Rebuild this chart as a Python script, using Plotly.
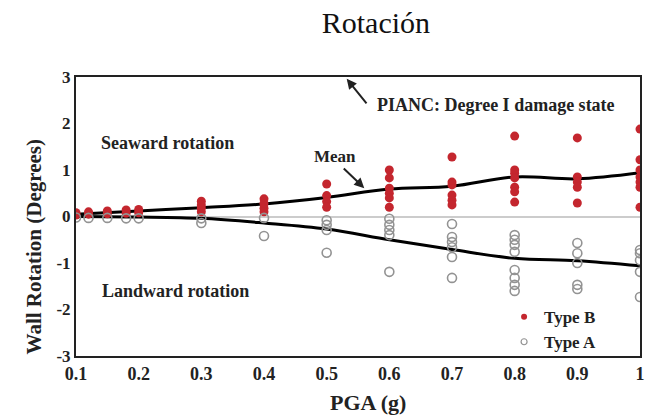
import plotly.graph_objects as go

# Type B (seaward, red filled)
typeB_x = [0.1, 0.1, 0.12, 0.12, 0.15, 0.15, 0.18, 0.18, 0.2, 0.2,
           0.3, 0.3, 0.3, 0.3,
           0.4, 0.4, 0.4, 0.4,
           0.5, 0.5, 0.5, 0.5,
           0.6, 0.6, 0.6, 0.6, 0.6, 0.6,
           0.7, 0.7, 0.7, 0.7, 0.7, 0.7,
           0.8, 0.8, 0.8, 0.8, 0.8, 0.8, 0.8,
           0.9, 0.9, 0.9, 0.9, 0.9,
           1.0, 1.0, 1.0, 1.0, 1.0, 1.0, 1.0]
typeB_y = [0.03, 0.08, 0.05, 0.1, 0.06, 0.12, 0.07, 0.14, 0.08, 0.15,
           0.33, 0.25, 0.18, 0.1,
           0.38, 0.28, 0.18, 0.1,
           0.7, 0.45, 0.32, 0.2,
           1.0, 0.83, 0.61, 0.5, 0.4, 0.2,
           1.28, 0.74, 0.68, 0.46, 0.35, 0.25,
           1.73, 1.0, 0.93, 0.83, 0.63, 0.53, 0.31,
           1.69, 0.85, 0.74, 0.63, 0.29,
           1.88, 1.22, 1.0, 0.85, 0.74, 0.63, 0.2]

# Type A (landward, grey open)
typeA_x = [0.1, 0.12, 0.15, 0.18, 0.2,
           0.3, 0.3,
           0.4, 0.4,
           0.5, 0.5, 0.5, 0.5,
           0.6, 0.6, 0.6, 0.6, 0.6,
           0.7, 0.7, 0.7, 0.7, 0.7, 0.7,
           0.8, 0.8, 0.8, 0.8, 0.8, 0.8, 0.8, 0.8,
           0.9, 0.9, 0.9, 0.9, 0.9,
           1.0, 1.0, 1.0, 1.0, 1.0]
typeA_y = [-0.02, -0.03, -0.03, -0.04, -0.04,
           -0.04, -0.14,
           -0.03, -0.42,
           -0.08, -0.18, -0.29, -0.78,
           -0.05, -0.18, -0.29, -0.4, -1.19,
           -0.16, -0.44, -0.55, -0.66, -0.87, -1.32,
           -0.4, -0.5, -0.61, -0.76, -1.15, -1.32, -1.47, -1.6,
           -0.57, -0.79, -1.0, -1.47, -1.56,
           -0.72, -0.79, -0.94, -1.19, -1.73]

# Mean curves
pga = [0.1, 0.2, 0.3, 0.4, 0.5, 0.6, 0.7, 0.8, 0.9, 1.0]
mean_B = [0.05, 0.12, 0.19, 0.27, 0.41, 0.59, 0.65, 0.85, 0.81, 0.94]
mean_A = [0.0, -0.01, -0.04, -0.14, -0.27, -0.5, -0.71, -0.9, -0.95, -1.06]

x_ticks = [0.1, 0.2, 0.3, 0.4, 0.5, 0.6, 0.7, 0.8, 0.9, 1.0]
x_tick_labels = ["0.1", "0.2", "0.3", "0.4", "0.5", "0.6", "0.7", "0.8", "0.9", "1"]
y_ticks = [-3, -2, -1, 0, 1, 2, 3]
y_tick_labels = ["-3", "-2", "-1", "0", "1", "2", "3"]

FONT = "Liberation Serif"
RED = "#c4262e"
GREY = "#939393"
INK = "#222222"

fig = go.Figure()
fig.add_trace(go.Scatter(x=pga, y=mean_B, mode="lines", line=dict(color="black", width=3, shape="spline"),
                         showlegend=False, hoverinfo="skip"))
fig.add_trace(go.Scatter(x=pga, y=mean_A, mode="lines", line=dict(color="black", width=3, shape="spline"),
                         showlegend=False, hoverinfo="skip"))
fig.add_trace(go.Scatter(x=typeB_x, y=typeB_y, mode="markers", name="Type B", showlegend=False,
                         marker=dict(color=RED, size=9, line=dict(width=0))))
fig.add_trace(go.Scatter(x=typeA_x, y=typeA_y, mode="markers", name="Type A", showlegend=False,
                         marker=dict(color="rgba(255,255,255,0)", size=9, symbol="circle",
                                     line=dict(color=GREY, width=1.6))))
# legend entries (small symbols as in the original)
fig.add_trace(go.Scatter(x=[None], y=[None], mode="markers", name="Type B",
                         marker=dict(color=RED, size=6, line=dict(width=0))))
fig.add_trace(go.Scatter(x=[None], y=[None], mode="markers", name="Type A",
                         marker=dict(color="rgba(255,255,255,0)", size=6, symbol="circle",
                                     line=dict(color=GREY, width=1.2))))

bold = dict(family=FONT, size=18, color=INK, weight="bold")

fig.update_layout(
    width=656, height=416,
    margin=dict(l=76, r=11, t=77, b=60),
    plot_bgcolor="white", paper_bgcolor="white",
    title=dict(text="Rotación", x=0.573, xanchor="center", y=0.947, yanchor="middle",
               font=dict(family=FONT, size=30, color="#111")),
    xaxis=dict(range=[0.1, 1.0], tickvals=x_ticks, ticktext=x_tick_labels,
               showgrid=False, zeroline=False, showline=True, linecolor=INK, linewidth=2,
               mirror=True, ticks="", tickfont=dict(family=FONT, size=18, color=INK, weight="bold")),
    yaxis=dict(range=[-3, 3], tickvals=y_ticks, ticktext=y_tick_labels,
               showgrid=False, zeroline=True, zerolinecolor="#cccccc", zerolinewidth=1.5,
               showline=True, linecolor=INK, linewidth=2, mirror=True, ticks="",
               tickfont=dict(family=FONT, size=17, color=INK, weight="bold")),
    legend=dict(x=0.759, y=0.204, xanchor="left", yanchor="top", bgcolor="rgba(0,0,0,0)",
                font=dict(family=FONT, size=17, color=INK, weight="bold"), itemsizing="trace",
                tracegroupgap=0),
)

# axis titles (placed as in the original, slightly off-centre)
fig.add_annotation(xref="paper", yref="paper", x=0.518, y=-0.165, text="PGA (g)", showarrow=False,
                   xanchor="center", yanchor="middle",
                   font=dict(family=FONT, size=22, color=INK, weight="bold"))
fig.add_annotation(xref="paper", yref="paper", x=-0.074, y=0.39, text="Wall Rotation (Degrees)",
                   showarrow=False, textangle=-90, xanchor="center", yanchor="middle",
                   font=dict(family=FONT, size=21, color=INK, weight="bold"))

fig.add_annotation(x=0.2455, y=1.58, text="Seaward rotation", showarrow=False, font=bold)
fig.add_annotation(x=0.258, y=-1.6, text="Landward rotation", showarrow=False, font=bold)
fig.add_annotation(x=0.513, y=1.28, text="Mean", showarrow=False,
                   font=dict(family=FONT, size=17, color=INK, weight="bold"))
fig.add_annotation(x=0.56, y=0.61, ax=-22, ay=-21, text="", showarrow=True, arrowhead=2,
                   arrowsize=1, arrowwidth=2, arrowcolor=INK)
fig.add_annotation(x=0.77, y=2.4, text="PIANC: Degree I damage state", showarrow=False, font=bold)
fig.add_annotation(x=0.532, y=2.96, ax=21, ay=26, text="", showarrow=True, arrowhead=2,
                   arrowsize=1, arrowwidth=2, arrowcolor=INK)

fig.write_html("out.html")
